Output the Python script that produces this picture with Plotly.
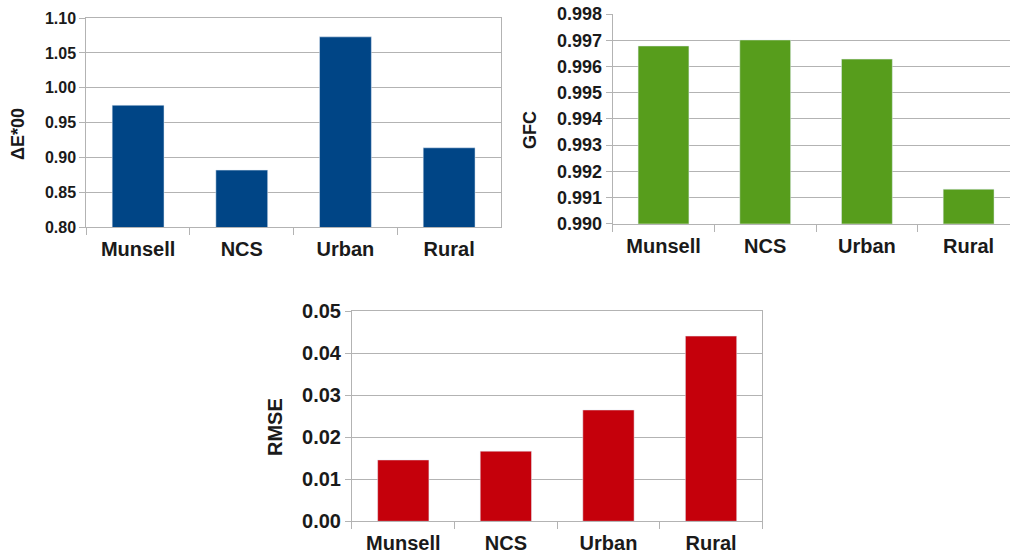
import plotly.graph_objects as go

# Colour-difference metrics per reflectance dataset
categories = ["Munsell", "NCS", "Urban", "Rural"]
delta_e00 = [0.975, 0.882, 1.073, 0.914]
gfc = [0.99678, 0.99701, 0.99628, 0.99132]
rmse = [0.0146, 0.0167, 0.0265, 0.0441]

de_ticks = [0.80, 0.85, 0.90, 0.95, 1.00, 1.05, 1.10]
gfc_ticks = [0.990, 0.991, 0.992, 0.993, 0.994, 0.995, 0.996, 0.997, 0.998]
rmse_ticks = [0.00, 0.01, 0.02, 0.03, 0.04, 0.05]
titles = ["ΔE*00", "GFC", "RMSE"]

FONT = "Liberation Sans"
TEXT = "#1a1a1a"
GRID = "#b3b3b3"
W, H = 1010, 558

fig = go.Figure()

fig.add_trace(go.Bar(x=categories, y=delta_e00, marker_color="#004586",
                     xaxis="x", yaxis="y", width=0.5))
fig.add_trace(go.Bar(x=categories, y=gfc, marker_color="#579d1c",
                     xaxis="x2", yaxis="y2", width=0.5))
fig.add_trace(go.Bar(x=categories, y=rmse, marker_color="#c5000b",
                     xaxis="x3", yaxis="y3", width=0.5))


def xaxis(domain, anchor, size, rng, mirror=True):
    return dict(domain=domain, anchor=anchor, type="category",
                range=rng, tickson="boundaries", ticks="outside",
                ticklen=7, tickcolor=GRID, showline=True, linecolor=GRID,
                mirror=mirror, showgrid=False, automargin=False,
                ticklabelstandoff=4,
                tickfont=dict(family=FONT, size=size, color=TEXT, weight="bold"))


def yaxis(domain, anchor, size, rng, ticks, fmt, mirror=True):
    return dict(domain=domain, anchor=anchor, range=rng, tickvals=ticks,
                tickformat=fmt, ticks="outside", ticklen=6, tickcolor=GRID,
                showline=True, linecolor=GRID, mirror=mirror, automargin=False,
                showgrid=True, gridcolor=GRID, gridwidth=1, zeroline=False,
                tickfont=dict(family=FONT, size=size, color=TEXT, weight="bold"))


fig.update_layout(
    width=W, height=H,
    margin=dict(l=0, r=0, t=0, b=0),
    paper_bgcolor="white", plot_bgcolor="white",
    showlegend=False, bargap=0.5,
    xaxis=xaxis([0.0854, 0.496], "y", 20, [-0.5, 3.5]),
    yaxis=yaxis([0.5926, 0.9677], "x", 16, [0.80, 1.10], de_ticks, ".2f"),
    xaxis2=xaxis([0.6066, 1.0], "y2", 20, [-0.5, 3.407], mirror=False),
    yaxis2=yaxis([0.599, 0.9749], "x2", 18, [0.990, 0.998], gfc_ticks, ".3f",
                 mirror=False),
    xaxis3=xaxis([0.3485, 0.7548], "y3", 20, [-0.5, 3.5]),
    yaxis3=yaxis([0.0658, 0.4421], "x3", 20, [0.0, 0.05], rmse_ticks, ".2f"),
)

# Rotated y-axis titles, centred on the panel including its category labels
title_pos = [(18, 134, 18), (530, 130, 18), (275, 427, 20)]
for text, (px, py, size) in zip(titles, title_pos):
    fig.add_annotation(text=text, xref="paper", yref="paper",
                       x=px / W, y=1 - py / H, xanchor="center", yanchor="middle",
                       textangle=-90, showarrow=False,
                       font=dict(family=FONT, size=size, color=TEXT, weight="bold"))

fig.write_html("out.html")
